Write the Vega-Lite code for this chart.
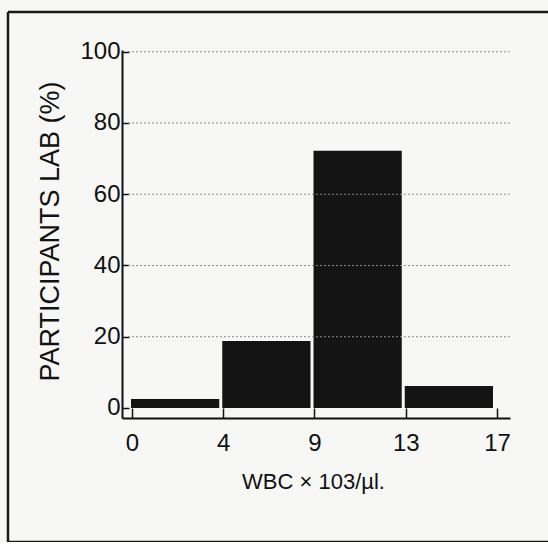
{
  "$schema": "https://vega.github.io/schema/vega-lite/v6.json",
  "width": 388,
  "height": 368,
  "padding": {"left": 122, "top": 50, "right": 38, "bottom": 124},
  "autosize": {"type": "none"},
  "background": "#f7f7f5",
  "config": {
    "view": {"stroke": null},
    "font": "Liberation Sans",
    "axis": {"labelFont": "Liberation Sans", "titleFont": "Liberation Sans", "labelColor": "#111", "titleColor": "#111", "tickColor": "#111", "domainColor": "#111", "titleFontWeight": "normal"}
  },
  "datasets": {
    "bars": [
      {"bin": "0-4", "start": 0, "end": 1, "pct": 2.5},
      {"bin": "4-9", "start": 1, "end": 2, "pct": 18.8},
      {"bin": "9-13", "start": 2, "end": 3, "pct": 72.2},
      {"bin": "13-17", "start": 3, "end": 4, "pct": 6.2}
    ],
    "grid": [{"g": 20}, {"g": 40}, {"g": 60}, {"g": 80}, {"g": 100}],
    "one": [{"k": 1}]
  },
  "layer": [
    {
      "data": {"name": "bars"},
      "mark": {"type": "bar", "color": "#141414", "xOffset": -1, "x2Offset": -4},
      "encoding": {
        "x": {
          "field": "start", "type": "quantitative",
          "scale": {"domain": [-0.1096, 4.1425], "nice": false, "zero": false},
          "axis": {
            "values": [0, 1, 2, 3, 4],
            "labelExpr": "datum.value == 0 ? '0' : datum.value == 1 ? '4' : datum.value == 2 ? '9' : datum.value == 3 ? '13' : '17'",
            "domain": true, "domainWidth": 2, "grid": false,
            "tickSize": -10, "tickWidth": 1.5,
            "labelPadding": 23, "labelFontSize": 24, "labelAngle": 0,
            "title": "WBC × 103/µl.", "titleFontSize": 22,
            "titleX": 191, "titleY": 70, "titleBaseline": "alphabetic"
          }
        },
        "x2": {"field": "end"},
        "y": {
          "field": "pct", "type": "quantitative",
          "scale": {"domain": [-2.807, 100.49], "nice": false, "zero": false},
          "axis": {
            "values": [0, 20, 40, 60, 80, 100],
            "domain": true, "domainWidth": 2, "grid": false,
            "tickSize": -7, "tickWidth": 1.5,
            "labelPadding": 9, "labelFontSize": 24,
            "title": "PARTICIPANTS LAB  (%)", "titleFontSize": 27,
            "titleX": -64, "titleY": 181, "titleBaseline": "alphabetic", "titleAngle": -90
          }
        },
        "y2": {"datum": 0}
      }
    },
    {
      "data": {"name": "grid"},
      "mark": {"type": "rule", "color": "#8a8a8a", "strokeWidth": 1, "strokeDash": [2, 2]},
      "encoding": {
        "y": {"field": "g", "type": "quantitative"},
        "x": {"datum": -0.044, "type": "quantitative"},
        "x2": {"datum": 4.14}
      }
    },
    {
      "data": {"name": "one"},
      "mark": {"type": "rule", "color": "#1a1a1a", "strokeWidth": 2.5},
      "encoding": {
        "x": {"datum": -1.359, "type": "quantitative"},
        "y": {"datum": -37.6, "type": "quantitative"},
        "y2": {"datum": 111.16}
      }
    },
    {
      "data": {"name": "one"},
      "mark": {"type": "rule", "color": "#1a1a1a", "strokeWidth": 2.5},
      "encoding": {
        "y": {"datum": 111.16, "type": "quantitative"},
        "x": {"datum": -1.359, "type": "quantitative"},
        "x2": {"datum": 4.56}
      }
    },
    {
      "data": {"name": "one"},
      "mark": {"type": "rule", "color": "#1a1a1a", "strokeWidth": 2.5},
      "encoding": {
        "y": {"datum": -37.6, "type": "quantitative"},
        "x": {"datum": -1.359, "type": "quantitative"},
        "x2": {"datum": 4.56}
      }
    }
  ]
}
